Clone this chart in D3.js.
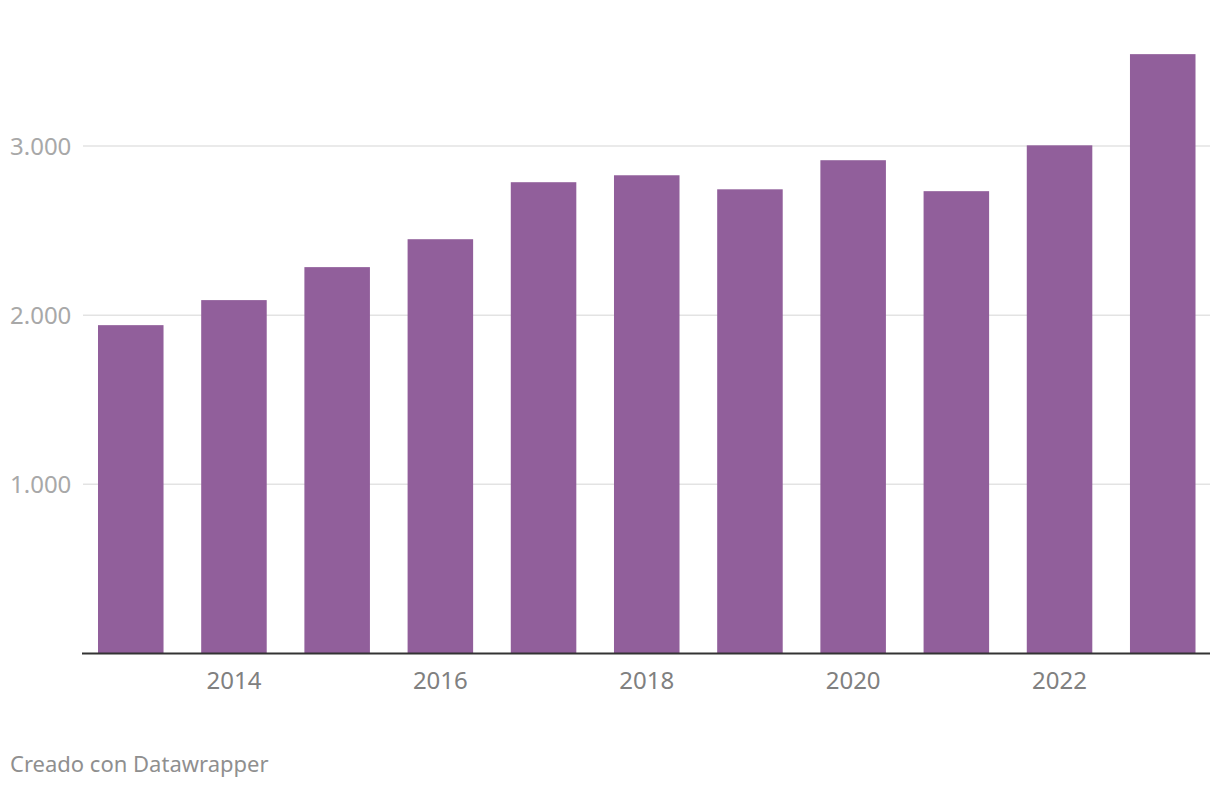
<!DOCTYPE html>
<html><head><meta charset="utf-8">
<script src="https://cdn.jsdelivr.net/npm/d3@7"></script>
<style>body{margin:0;background:#fff;} svg{display:block;font-family:"Noto Sans",sans-serif;}</style>
</head><body>
<svg id="c" width="1220" height="788"></svg>
<script>
const years = ["2013","2014","2015","2016","2017","2018","2019","2020","2021","2022","2023"];
const values = [1941, 2089, 2284, 2449, 2786, 2827, 2744, 2916, 2733, 3004, 3543];
const yTicks = [1000, 2000, 3000];
const xTickLabels = ["2014","2016","2018","2020","2022"];
const fmt = v => d3.format(",")(v).replace(/,/g, ".");

const svg = d3.select("#c");
const x = d3.scaleBand().domain(years).range([82, 1211.5]).paddingInner(0.365).paddingOuter(0.155);
const y = d3.scaleLinear().domain([0, 3000]).range([653.5, 146]);

// gridlines
svg.append("g").selectAll("line").data(yTicks).join("line")
  .attr("x1", 83).attr("x2", 1210)
  .attr("y1", d => y(d)).attr("y2", d => y(d))
  .attr("stroke", "#e3e3e3").attr("stroke-width", 1.5);
svg.append("g").selectAll("text").data(yTicks).join("text")
  .attr("x", 10).attr("y", d => y(d) - 1)
  .attr("dominant-baseline", "central")
  .attr("fill", "#a8a8a8").attr("font-size", 24)
  .text(d => fmt(d));

// bars
svg.append("g").selectAll("rect").data(years).join("rect")
  .attr("x", d => x(d)).attr("width", x.bandwidth())
  .attr("y", (d, i) => y(values[i])).attr("height", (d, i) => y(0) - y(values[i]))
  .attr("fill", "#915f9b");

// axis line
svg.append("line").attr("x1", 82).attr("x2", 1210).attr("y1", y(0)).attr("y2", y(0))
  .attr("stroke", "#333").attr("stroke-width", 2);

// x labels
svg.append("g").selectAll("text").data(xTickLabels).join("text")
  .attr("x", d => x(d) + x.bandwidth() / 2).attr("y", 689)
  .attr("text-anchor", "middle").attr("fill", "#808080").attr("font-size", 24)
  .text(d => d);

svg.append("text").attr("x", 10).attr("y", 772).attr("fill", "#8f8f8f").attr("font-size", 22)
  .text("Creado con Datawrapper");
</script>
</body></html>
